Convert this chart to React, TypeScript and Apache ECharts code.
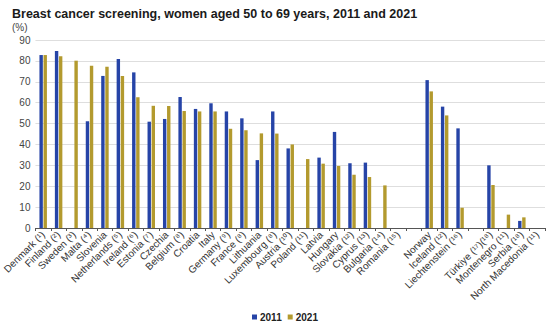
import React, { useEffect, useRef } from "react";
import * as echarts from "echarts";

const titleText = "Breast cancer screening, women aged 50 to 69 years, 2011 and 2021";
const unitText = "(%)";

const categories = [
  "Denmark (¹)", "Finland (²)", "Sweden (³)", "Malta (⁴)", "Slovenia", "Netherlands (⁵)",
  "Ireland (⁶)", "Estonia (⁷)", "Czechia", "Belgium (⁸)", "Croatia", "Italy",
  "Germany (⁹)", "France (⁸)", "Lithuania", "Luxembourg (⁸)", "Austria (¹⁰)", "Poland (¹¹)",
  "Latvia", "Hungary", "Slovakia (¹²)", "Cyprus (¹³)", "Bulgaria (¹⁴)", "Romania (¹⁵)",
  "",
  "Norway", "Iceland (¹²)", "Liechtenstein (¹⁶)",
  " ",
  "Türkiye (¹⁷)(¹⁸)", "Montenegro (¹¹)", "Serbia (¹⁸)", "North Macedonia (¹¹)",
];

const values2011: (number | null)[] = [
  82.8, 84.7, null, 51.1, 72.8, 80.9,
  74.5, 50.9, 52.2, 62.7, 57.0, 59.7,
  55.8, 52.5, 32.5, 55.8, 38.1, null,
  33.7, 46.0, 31.0, 31.3, null, null,
  null,
  70.8, 58.1, 47.7,
  null,
  30.0, null, 3.4, null,
];

const values2021: (number | null)[] = [
  82.8, 82.2, 80.1, 77.7, 77.2, 72.8,
  62.6, 58.5, 58.4, 56.0, 55.8, 55.8,
  47.5, 46.8, 45.3, 45.2, 40.0, 33.0,
  30.8, 29.7, 25.5, 24.4, 20.4, null,
  null,
  65.4, 53.9, 9.7,
  null,
  20.6, 6.4, 5.1, null,
];

const seriesNames = ["2011", "2021"];
const seriesColors = ["#2644A7", "#B39A2E"];

export default function App() {
  const ref = useRef<HTMLDivElement>(null);
  useEffect(() => {
    if (!ref.current) return;
    const chart = echarts.init(ref.current, undefined, { renderer: "svg" });
    chart.setOption({
      animation: false,
      backgroundColor: "#ffffff",
      textStyle: { fontFamily: "Liberation Sans, Arial, sans-serif" },
      title: [
        {
          text: titleText,
          left: 7,
          top: 2,
          textStyle: { fontSize: 12.5, fontWeight: "bold", color: "#1a1a1a", fontFamily: "Liberation Sans, Arial, sans-serif" },
        },
        {
          text: unitText,
          left: 7,
          top: 17,
          textStyle: { fontSize: 10, fontWeight: "normal", color: "#444", fontFamily: "Liberation Sans, Arial, sans-serif" },
        },
      ],
      legend: {
        data: seriesNames,
        left: 247,
        top: 307,
        itemWidth: 5,
        itemHeight: 5,
        itemGap: 6,
        icon: "rect",
        textStyle: { fontSize: 10, fontWeight: "bold", color: "#222", padding: [0, 0, 0, -2] },
      },
      grid: { left: 23, right: 5, top: 40, bottom: 94, containLabel: false },
      xAxis: {
        type: "category",
        data: categories,
        axisLine: { lineStyle: { color: "#555", width: 1 } },
        axisTick: { show: true, length: 3, lineStyle: { color: "#555" } },
        axisLabel: { interval: 0, rotate: 45, fontSize: 10, color: "#333", margin: 5 },
      },
      yAxis: {
        type: "value",
        min: 0,
        max: 90,
        interval: 10,
        axisLine: { show: false },
        axisTick: { show: false },
        axisLabel: { fontSize: 10, color: "#444", margin: 5 },
        splitLine: { lineStyle: { color: "#dedede", width: 1 } },
      },
      series: [
        {
          name: seriesNames[0],
          type: "bar",
          data: values2011,
          barWidth: 3.4,
          barGap: "20%",
          itemStyle: { color: seriesColors[0] },
        },
        {
          name: seriesNames[1],
          type: "bar",
          data: values2021,
          barWidth: 3.4,
          barGap: "20%",
          itemStyle: { color: seriesColors[1] },
        },
      ],
    });
    return () => chart.dispose();
  }, []);
  return <div ref={ref} style={{ width: 550, height: 322, position: "absolute", left: 0, top: 0 }} />;
}
